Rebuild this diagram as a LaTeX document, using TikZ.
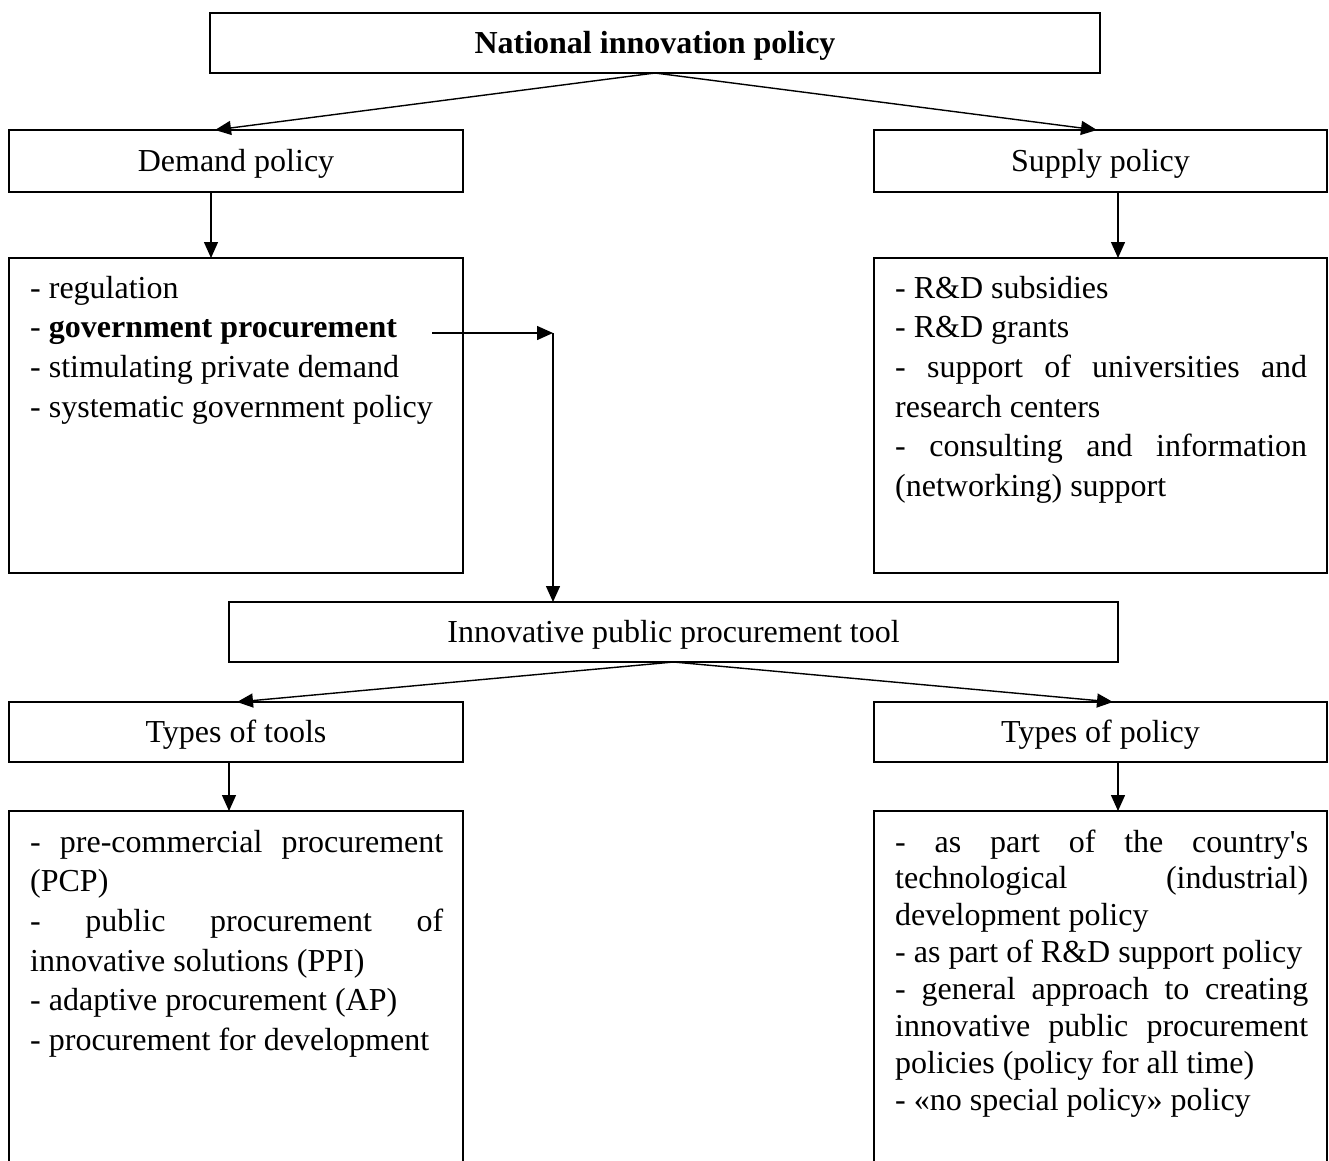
\documentclass[tikz,border=0pt]{standalone}
\usepackage{fontspec}
\newfontfamily\tnr{Liberation Serif}
\usetikzlibrary{arrows.meta,calc}
\newcommand\lstfnt{\tnr\fontsize{32}{39.7}\selectfont}
\newcommand\lstfntb{\tnr\fontsize{32}{36.9}\selectfont}
\begin{document}
\begin{tikzpicture}[x=1pt,y=-1pt,
  box/.style={draw, line width=1.4pt, rectangle, inner sep=0pt, outer sep=0pt,
    text height=24pt, text depth=3pt, font=\tnr\fontsize{32}{40}\selectfont},
  arr/.style={line width=1.4pt, -{Triangle[length=16pt,width=14pt]}},
  listtxt/.style={anchor=base west, inner sep=0pt}
]
\useasboundingbox (0,0) rectangle (1329,1160);
\clip (0,0) rectangle (1329,1160);

% boxes
\node[box, minimum width=890pt, minimum height=60pt] (nat) at (655,43) {\bfseries National innovation policy};
\node[box, minimum width=454pt, minimum height=62pt] (dem) at (236,161) {Demand policy};
\node[box, minimum width=453pt, minimum height=62pt] (sup) at (1100.5,161) {Supply policy};
\node[box, minimum width=454pt, minimum height=315pt, anchor=north west] (demlist) at (9,258) {};
\node[box, minimum width=453pt, minimum height=315pt, anchor=north west] (suplist) at (874,258) {};
\node[box, minimum width=889pt, minimum height=60pt] (ipt) at (673.5,632) {Innovative public procurement tool};
\node[box, minimum width=454pt, minimum height=60pt] (tools) at (236,732) {Types of tools};
\node[box, minimum width=453pt, minimum height=60pt] (pol) at (1100.5,732) {Types of policy};
\node[box, minimum width=454pt, minimum height=400pt, anchor=north west] (toollist) at (9,811) {};
\node[box, minimum width=453pt, minimum height=400pt, anchor=north west] (pollist) at (874,811) {};

% list texts
\node[listtxt] (demtxt) at (30,298) {\begin{minipage}[t]{412pt}\lstfnt
- regulation\par
- \textbf{government procurement}\par
- stimulating private demand\par
- systematic government policy\par\end{minipage}};

\node[listtxt] (suptxt) at (895,298) {\begin{minipage}[t]{412pt}\lstfnt
- R\&D subsidies\par
- R\&D grants\par
- support of universities and\linebreak research centers\par
- consulting and information\linebreak (networking) support\par\end{minipage}};

\node[listtxt] (tooltxt) at (30,852) {\begin{minipage}[t]{413pt}\lstfnt
- pre-commercial procurement\linebreak (PCP)\par
- public procurement of\linebreak innovative solutions (PPI)\par
- adaptive procurement (AP)\par
- procurement for development\par\end{minipage}};

\node[listtxt] (poltxt) at (895,852) {\begin{minipage}[t]{413pt}\lstfntb
- as part of the country's\linebreak technological (industrial)\linebreak development policy\par
- as part of R\&D support policy\par
- general approach to creating\linebreak innovative public procurement\linebreak policies (policy for all time)\par
- «no special policy» policy\par\end{minipage}};

% connectors
\draw[arr] (nat.south) -- ([xshift=206pt]dem.north west);
\draw[arr] (nat.south) -- ([xshift=223pt]sup.north west);
\draw[arr] ([xshift=202pt]dem.south west) -- ([xshift=202pt]demlist.north west);
\draw[arr] ([xshift=244pt]sup.south west) -- ([xshift=244pt]suplist.north west);
\coordinate (gps) at (432,333);
\coordinate (gpc) at (553,333);
\draw[arr] (gps) -- (gpc);
\draw[arr] (gpc) -- (gpc |- ipt.north);
\draw[arr] (ipt.south) -- ([xshift=228pt]tools.north west);
\draw[arr] (ipt.south) -- ([xshift=239pt]pol.north west);
\draw[arr] ([xshift=220pt]tools.south west) -- ([xshift=220pt]toollist.north west);
\draw[arr] ([xshift=244pt]pol.south west) -- ([xshift=244pt]pollist.north west);
\end{tikzpicture}
\end{document}
